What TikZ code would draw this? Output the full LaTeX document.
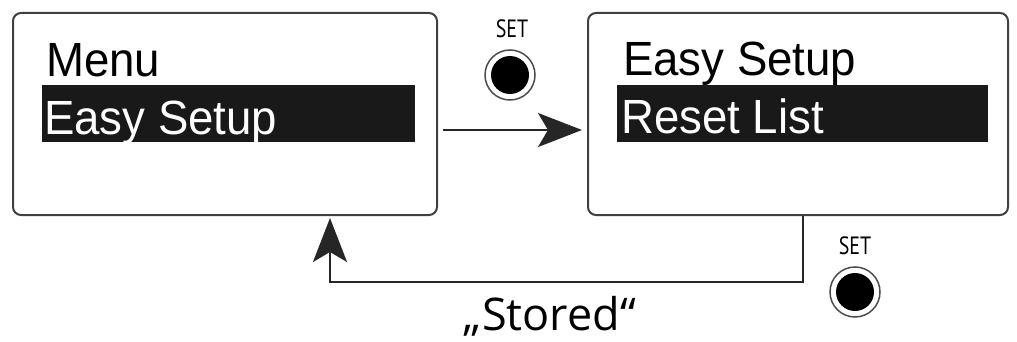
\documentclass[tikz,border=0pt]{standalone}
\usepackage{fontspec}
\setmainfont{Liberation Sans}
\newfontfamily\labelfont{PT Sans}
\newfontfamily\capfont{Open Sans}
\usetikzlibrary{arrows.meta}
\tikzset{
  screen/.style={draw=black!75, line width=2pt, rounded corners=8pt, inner sep=0pt},
  bar/.style={fill=black!90, draw=none},
  lcdtext/.style={anchor=base west, inner sep=0pt, font=\fontsize{48}{50}\selectfont, xscale=0.95},
  conn/.style={line width=2pt, black!85},
  bigtip/.style={-{Stealth[length=44pt,width=34pt,inset=10pt]}},
  setlabel/.style={font=\labelfont\fontsize{25}{27}\selectfont, inner sep=0pt, xscale=0.8},
  ring/.style={draw=black!70, line width=1.5pt},
  knob/.style={fill=black},
}
\begin{document}
\begin{tikzpicture}[x=1pt,y=-1pt]
\useasboundingbox (0,0) rectangle (1017,342);
% screens
\node[screen, minimum width=424pt, minimum height=202pt] (L) at (225,114) {};
\node[screen, minimum width=420pt, minimum height=202pt] (R) at (798,114) {};
% highlight bars
\fill[bar] (42,85) rectangle (415,142);
\fill[bar] (617,85) rectangle (988,142);
% texts
\node[lcdtext] (t1) at (46,77) {Menu};
\node[lcdtext, text=white] (t2) at (44,135) {Easy Setup};
\node[lcdtext] (t3) at (623,76) {Easy Setup};
\node[lcdtext, text=white] (t4) at (621,134) {Reset List};
% SET buttons
\node[setlabel] (s1) at (512,29) {SET};
\draw[ring] (510,75) circle (25);
\fill[knob] (510,75) circle (19);
\node (b1) at (510,75) {};
\node[setlabel] (s2) at (855,246) {SET};
\draw[ring] (855,292) circle (25);
\fill[knob] (855,292) circle (19);
\node (b2) at (855,292) {};
% connectors
\draw[conn, bigtip, shorten <=5pt, shorten >=5pt] ([yshift=-16]L.east) -- ([yshift=-16]R.west);
\coordinate (c1) at (330,282);
\draw[conn, bigtip, shorten >=2pt] ([xshift=5]R.south) |- (c1) -- (c1 |- L.south);
% caption
\node[font=\capfont\fontsize{45}{48}\selectfont, anchor=base, inner sep=0pt] (cap) at (550,330) {„Stored“};
\end{tikzpicture}
\end{document}
